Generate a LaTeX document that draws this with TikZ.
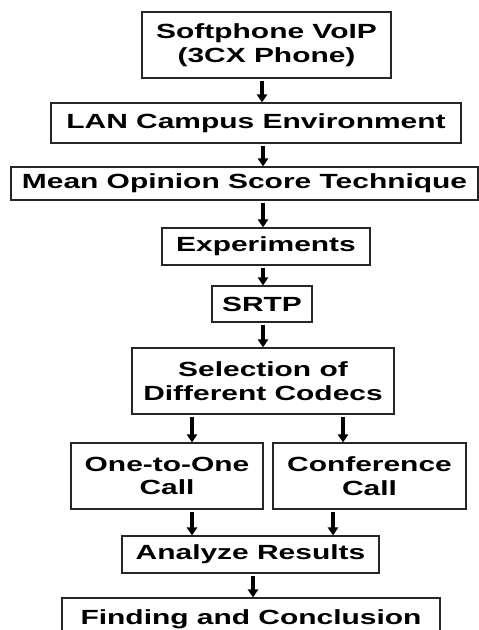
\documentclass[tikz,border=0pt]{standalone}
\usepackage{fontspec}
\newfontfamily\boxfont{Liberation Sans Bold}[FakeStretch=1.46]
\usetikzlibrary{arrows.meta}
\begin{document}
\begin{tikzpicture}[x=1pt,y=1pt,
  box/.style={draw=black!85, line width=1.1pt, inner sep=0pt, align=center,
    font=\boxfont\fontsize{20.5}{23.5}\selectfont, text=black},
  arr/.style={line width=3.5pt, -{Triangle[width=10pt,length=8pt]}, shorten <=2pt}]
\useasboundingbox (0,0) rectangle (479,-630);
\clip (0,0) rectangle (479,-630);
\node[box, minimum width=249pt, minimum height=66pt] (soft) at (266.5,-45) {Softphone VoIP\\(3CX Phone)};
\node[box, minimum width=410pt, minimum height=40pt] (lan) at (256,-123) {LAN Campus Environment};
\node[box, minimum width=467pt, minimum height=33pt] (mos) at (244.5,-183.5) {Mean Opinion Score Technique};
\node[box, minimum width=208pt, minimum height=37pt] (exp) at (266,-246.5) {Experiments};
\node[box, minimum width=100pt, minimum height=36pt] (srtp) at (262,-304) {SRTP};
\node[box, minimum width=262pt, minimum height=66pt] (sel) at (263,-381) {Selection of\\Different Codecs};
\node[box, minimum width=192pt, minimum height=66pt] (one) at (167,-476) {One-to-One\\Call};
\node[box, minimum width=193pt, minimum height=66pt] (conf) at (369.5,-476) {Conference\\Call};
\node[box, minimum width=257pt, minimum height=37pt] (ana) at (250.5,-554.5) {Analyze Results};
\node[box, minimum width=378pt, minimum height=42pt] (fin) at (251,-619) {Finding and Conclusion};
\coordinate (xa) at (262,0);
\coordinate (xb) at (263,0);
\coordinate (xl) at (192,0);
\coordinate (xr) at (343,0);
\coordinate (xr2) at (333,0);
\coordinate (xc) at (253,0);
\draw[arr] (soft.south -| xa) -- (lan.north -| xa);
\draw[arr] (lan.south -| xb) -- (mos.north -| xb);
\draw[arr] (mos.south -| xb) -- (exp.north -| xb);
\draw[arr] (exp.south -| xb) -- (srtp.north -| xb);
\draw[arr] (srtp.south -| xb) -- (sel.north -| xb);
\draw[arr] (sel.south -| xl) -- (one.north -| xl);
\draw[arr] (sel.south -| xr) -- (conf.north -| xr);
\draw[arr] (one.south -| xl) -- (ana.north -| xl);
\draw[arr] (conf.south -| xr2) -- (ana.north -| xr2);
\draw[arr] (ana.south -| xc) -- (fin.north -| xc);
\end{tikzpicture}
\end{document}
